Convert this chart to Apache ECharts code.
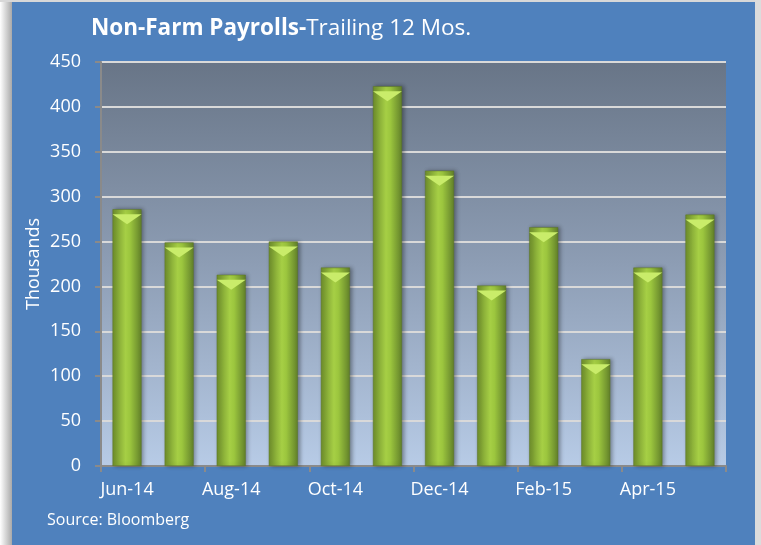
<!DOCTYPE html>
<html>
<head>
<meta charset="utf-8">
<script src="https://cdn.jsdelivr.net/npm/echarts@6/dist/echarts.min.js"></script>
<style>
  html, body { margin: 0; padding: 0; background: #ffffff; }
  #chart-container { width: 761px; height: 545px; }
</style>
</head>
<body>
<div id="chart-container"></div>
<script>
// months on the x axis
var months = ["Jun-14", "Jul-14", "Aug-14", "Sep-14", "Oct-14", "Nov-14",
              "Dec-14", "Jan-15", "Feb-15", "Mar-15", "Apr-15", "May-15"];
// payroll change, thousands
var payrolls = [286, 249, 213, 250, 221, 423, 329, 201, 266, 119, 221, 280];
var yTicks = [0, 50, 100, 150, 200, 250, 300, 350, 400, 450];

var chart = echarts.init(document.getElementById('chart-container'));
var font = '"Open Sans", sans-serif';

// bars: dark edges, light middle
var barGreen = new echarts.graphic.LinearGradient(0, 0, 1, 0, [
  {offset: 0, color: '#6f8f2c'},
  {offset: 0.45, color: '#a6cf45'},
  {offset: 0.6, color: '#9cc63e'},
  {offset: 1, color: '#62812a'}
]);

var options = {
  backgroundColor: '#4f81bd',
  textStyle: {fontFamily: font},
  animation: false,
  graphic: [
    // grey shadow strip on the left edge
    {type: 'rect', left: 0, top: 0, shape: {width: 12, height: 545},
     style: {fill: new echarts.graphic.LinearGradient(0, 0, 1, 0, [
       {offset: 0, color: '#ffffff'}, {offset: 1, color: '#a9a9a9'}])}, z: 10},
    {type: 'rect', left: 0, top: 0, shape: {width: 761, height: 2},
     style: {fill: '#d8d8d8'}, z: 10},
    {type: 'rect', right: 0, top: 0, shape: {width: 6, height: 545},
     style: {fill: '#dcdcdc'}, z: 10},
    {type: 'text', left: 91, top: 17, z: 10,
     style: {text: '{b|Non-Farm Payrolls-}{n|Trailing 12 Mos.}',
       rich: {
         b: {fontFamily: font, fontSize: 22.5, fontWeight: 'bold', fill: '#ffffff'},
         n: {fontFamily: font, fontSize: 22.5, fill: '#ffffff'}
       }}},
    {type: 'text', left: 47, top: 512, z: 10,
     style: {text: 'Source: Bloomberg', fontFamily: font, fontSize: 16, fill: '#ffffff'}}
  ],
  grid: {
    left: 101, right: 35, top: 62, bottom: 79,
    show: true, borderWidth: 0,
    backgroundColor: new echarts.graphic.LinearGradient(0, 0, 0, 1, [
      {offset: 0, color: '#687587'},
      {offset: 0.5, color: '#8d9db4'},
      {offset: 1, color: '#b7cbe6'}
    ])
  },
  xAxis: {
    type: 'category',
    data: months,
    axisLine: {lineStyle: {color: '#8a8a8a', width: 2}},
    axisTick: {show: true, interval: 1, length: 6, lineStyle: {color: '#8a8a8a', width: 2}},
    axisLabel: {interval: 1, color: '#ffffff', fontSize: 18, margin: 15, fontFamily: font}
  },
  yAxis: {
    type: 'value',
    min: 0, max: 450, interval: 50,
    name: 'Thousands',
    nameLocation: 'middle',
    nameGap: 58,
    nameMoveOverlap: false,
    nameTextStyle: {color: '#ffffff', fontSize: 18, fontFamily: font},
    axisLine: {show: true, lineStyle: {color: '#8a8a8a', width: 2}},
    axisTick: {show: true, length: 6, lineStyle: {color: '#8a8a8a', width: 2}},
    axisLabel: {color: '#ffffff', fontSize: 18, margin: 20, fontFamily: font,
      formatter: function (v) { return yTicks.indexOf(v) >= 0 ? String(v) : ''; }},
    splitLine: {show: true, lineStyle: {color: '#d9d9d9', width: 2}}
  },
  series: [
    {
      name: 'Payrolls',
      type: 'bar',
      data: payrolls,
      barWidth: 29,
      itemStyle: {color: barGreen, borderColor: '#5a7425', borderWidth: 0.5,
        shadowColor: 'rgba(0,0,0,0.35)', shadowBlur: 4, shadowOffsetX: 2},
      z: 2
    },
    {
      name: 'cap',
      type: 'pictorialBar',
      data: payrolls,
      symbol: 'path://M0,0 L10,0 L5,3 Z',
      symbolSize: [29, 10],
      symbolPosition: 'end',
      symbolOffset: [0, '50%'],
      barGap: '-100%',
      itemStyle: {color: '#c9ec6a'},
      z: 3
    }
  ]
};

chart.setOption(options);
</script>
</body>
</html>
